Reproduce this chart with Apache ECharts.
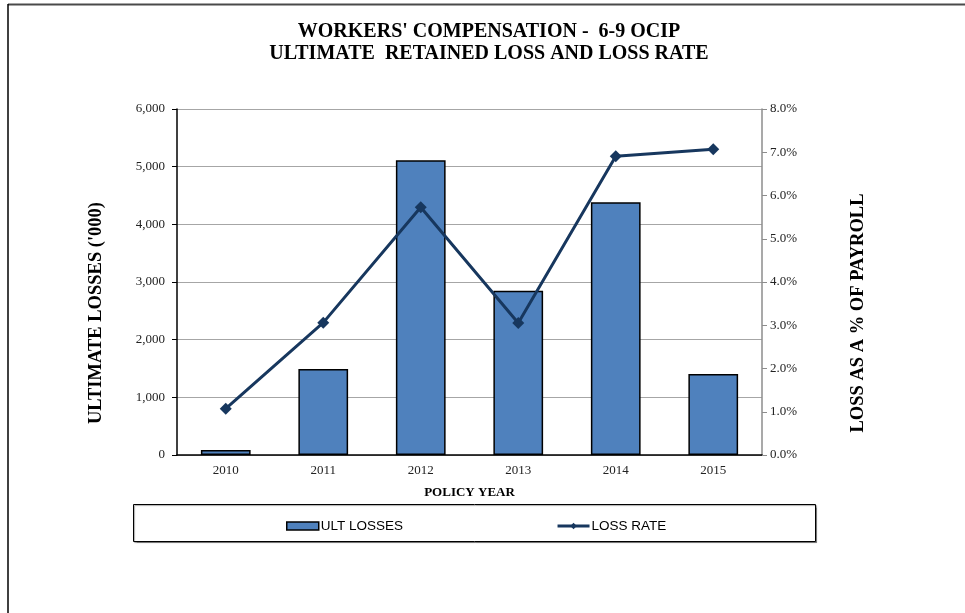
<!DOCTYPE html>
<html>
<head>
<meta charset="utf-8">
<script src="https://cdn.jsdelivr.net/npm/echarts@6/dist/echarts.min.js"></script>
<style>
  html, body { margin: 0; padding: 0; background: #fff; }
  #chart { width: 965px; height: 613px; }
</style>
</head>
<body>
<div id="chart"></div>
<script>
// Policy years and the two measures plotted per year
const policyYears = ['2010', '2011', '2012', '2013', '2014', '2015'];
const ultLosses = [85, 1490, 5110, 2850, 4385, 1405];        // thousands
const lossRate = [1.07, 3.06, 5.73, 3.05, 6.91, 7.07];        // % of payroll

const titleLines = ["WORKERS' COMPENSATION -  6-9 OCIP", 'ULTIMATE  RETAINED LOSS AND LOSS RATE'];
const serif = '"Liberation Serif", "Times New Roman", serif';
const sans = '"Liberation Sans", Arial, sans-serif';

function withCommas(v) {
  return String(v).replace(/\B(?=(\d{3})+(?!\d))/g, ',');
}

const chart = echarts.init(document.getElementById('chart'), null, { renderer: 'canvas' });

// vertical axis titles sit a little below the middle of the plot
const axisNameStyle = {
  fontFamily: serif,
  fontWeight: 'bold',
  fontSize: 18.5,
  color: '#000',
  padding: [0, 62, 0, 0]
};

chart.setOption({
  backgroundColor: '#ffffff',
  animation: false,
  title: {
    text: titleLines.join('\n'),
    left: 484,
    top: 16,
    textAlign: 'center',
    textStyle: {
      fontFamily: serif,
      fontWeight: 'bold',
      fontSize: 20,
      lineHeight: 22,
      color: '#000'
    }
  },
  graphic: [
    // page frame: top rule and left rule
    { type: 'line', shape: { x1: 8, y1: 4.5, x2: 965, y2: 4.5 }, style: { stroke: '#4a4a4a', lineWidth: 2 }, silent: true },
    { type: 'line', shape: { x1: 8, y1: 4, x2: 8, y2: 613 }, style: { stroke: '#000', lineWidth: 1.5 }, silent: true },
    // legend frame
    {
      type: 'rect',
      shape: { x: 133.5, y: 504.5, width: 682, height: 37 },
      style: { fill: '#fff', stroke: '#000', lineWidth: 1, shadowColor: 'rgba(0,0,0,0.35)', shadowOffsetX: 1, shadowOffsetY: 1, shadowBlur: 1 },
      z: 0,
      silent: true
    }
  ],
  legend: {
    left: 281,
    top: 514,
    itemGap: 153,
    itemWidth: 32,
    itemHeight: 8,
    z: 10,
    textStyle: { fontFamily: sans, fontSize: 13.5, color: '#000', padding: [0, 0, 0, -3] },
    data: [
      { name: 'ULT LOSSES', icon: 'rect', itemStyle: { borderColor: '#000', borderWidth: 1.5 } },
      { name: 'LOSS RATE', lineStyle: { width: 3, color: '#17375e' } }
    ]
  },
  grid: {
    left: 177,
    right: 203,
    top: 109,
    bottom: 158,
    containLabel: false
  },
  xAxis: {
    type: 'category',
    data: policyYears,
    name: 'POLICY YEAR',
    nameLocation: 'middle',
    nameGap: 31,
    nameTextStyle: { fontFamily: serif, fontWeight: 'bold', fontSize: 13, color: '#000' },
    axisLine: { lineStyle: { color: '#000', width: 1.5 } },
    axisTick: { show: false },
    axisLabel: { fontFamily: serif, fontSize: 13, color: '#222', margin: 9 },
    splitLine: { show: false }
  },
  yAxis: [
    {
      type: 'value',
      min: 0,
      max: 6000,
      interval: 1000,
      name: "ULTIMATE LOSSES ('000)",
      nameLocation: 'middle',
      nameGap: 71,
      nameTextStyle: axisNameStyle,
      axisLine: { show: true, lineStyle: { color: '#000', width: 1.5 } },
      axisTick: { show: true, inside: false, length: 5, lineStyle: { color: '#000' } },
      axisLabel: { fontFamily: serif, fontSize: 13, color: '#222', margin: 12, formatter: withCommas },
      splitLine: { show: true, lineStyle: { color: '#a6a6a6', width: 1.2 } }
    },
    {
      type: 'value',
      min: 0,
      max: 8,
      interval: 1,
      position: 'right',
      name: 'LOSS AS A % OF PAYROLL',
      nameLocation: 'middle',
      nameGap: 87,
      nameRotate: 90,
      nameTextStyle: axisNameStyle,
      axisLine: { show: true, lineStyle: { color: '#8c8c8c', width: 1.5 } },
      axisTick: { show: true, inside: false, length: 5, lineStyle: { color: '#8c8c8c' } },
      axisLabel: { fontFamily: serif, fontSize: 13, color: '#222', margin: 8, formatter: v => v.toFixed(1) + '%' },
      splitLine: { show: false }
    }
  ],
  series: [
    {
      name: 'ULT LOSSES',
      type: 'bar',
      yAxisIndex: 0,
      data: ultLosses,
      barWidth: '51%',
      itemStyle: { color: '#4f81bd', borderColor: '#000', borderWidth: 1.5 },
      z: 2
    },
    {
      name: 'LOSS RATE',
      type: 'line',
      yAxisIndex: 1,
      data: lossRate,
      symbol: 'diamond',
      symbolSize: 12,
      showAllSymbol: true,
      lineStyle: { color: '#17375e', width: 3 },
      itemStyle: { color: '#17375e' },
      z: 3
    }
  ]
});
</script>
</body>
</html>
